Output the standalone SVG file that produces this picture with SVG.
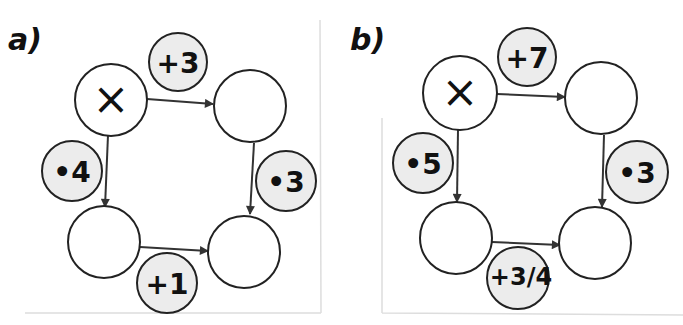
<svg xmlns="http://www.w3.org/2000/svg" width="683" height="325" viewBox="0 0 683 325">
<style>
.node{fill:#fff;stroke:#222;stroke-width:2}
.op{fill:#ececec;stroke:#222;stroke-width:2}
.edge{stroke:#333;stroke-width:2;fill:none;marker-end:url(#ah)}
.t{font-family:"DejaVu Sans",sans-serif;font-weight:bold;fill:#111;text-anchor:middle;dominant-baseline:central}
.x{font-family:"DejaVu Sans",sans-serif;fill:#111;text-anchor:middle;dominant-baseline:central;font-size:44px}
.lab{font-family:"DejaVu Sans",sans-serif;font-style:italic;font-weight:bold;fill:#111;font-size:30px}
.frame{stroke:#ddd;stroke-width:1.5;fill:none}
</style>
<defs>
<marker id="ah" viewBox="0 0 10 10" refX="9" refY="5" markerWidth="11" markerHeight="9" orient="auto" markerUnits="userSpaceOnUse">
<path d="M0,0 L10,5 L0,10 z" fill="#333"/>
</marker>
</defs>
<rect width="683" height="325" fill="#fff"/>
<g id="frames">
<path class="frame" d="M320,20 L321,313 M25,313 L321,313"/>
<path class="frame" d="M382,118 L382,313 M382,313 L684,315"/>
</g>
<text class="lab" x="8" y="50">a)</text>
<text class="lab" x="350" y="50">b)</text>
<g id="connectors">
<line class="edge" x1="147" y1="99" x2="213" y2="104"/>
<line class="edge" x1="108" y1="135" x2="105" y2="207"/>
<line class="edge" x1="254" y1="143" x2="250" y2="214"/>
<line class="edge" x1="140" y1="247" x2="208" y2="251"/>
<line class="edge" x1="497" y1="94" x2="565" y2="97"/>
<line class="edge" x1="458" y1="130" x2="457" y2="202"/>
<line class="edge" x1="604" y1="135" x2="602" y2="207"/>
<line class="edge" x1="492" y1="242" x2="560" y2="245"/>
</g>
<g id="a-x"><circle class="node" cx="111" cy="100" r="36"/><text class="x" x="111" y="98">×</text></g>
<g id="a-tr"><circle class="node" cx="250" cy="106" r="36"/></g>
<g id="a-bl"><circle class="node" cx="104" cy="242" r="36"/></g>
<g id="a-br"><circle class="node" cx="244" cy="252" r="36"/></g>
<g id="a-op1"><circle class="op" cx="178" cy="62" r="29"/><text class="t" x="178" y="63" font-size="28">+3</text></g>
<g id="a-op2"><circle class="op" cx="72" cy="171" r="30"/><text class="t" x="72" y="172" font-size="28">•4</text></g>
<g id="a-op3"><circle class="op" cx="286" cy="181" r="30"/><text class="t" x="286" y="182" font-size="28">•3</text></g>
<g id="a-op4"><circle class="op" cx="167" cy="283" r="30"/><text class="t" x="167" y="284" font-size="28">+1</text></g>
<g id="b-x"><circle class="node" cx="460" cy="93" r="37"/><text class="x" x="460" y="91">×</text></g>
<g id="b-tr"><circle class="node" cx="601" cy="98" r="36"/></g>
<g id="b-bl"><circle class="node" cx="456" cy="238" r="36"/></g>
<g id="b-br"><circle class="node" cx="595" cy="243" r="36"/></g>
<g id="b-op1"><circle class="op" cx="527" cy="57" r="29"/><text class="t" x="527" y="58" font-size="28">+7</text></g>
<g id="b-op2"><circle class="op" cx="423" cy="163" r="30"/><text class="t" x="423" y="164" font-size="28">•5</text></g>
<g id="b-op3"><circle class="op" cx="637" cy="172" r="31"/><text class="t" x="637" y="173" font-size="28">•3</text></g>
<g id="b-op4"><circle class="op" cx="518" cy="278" r="31"/><text class="t" x="521" y="277" font-size="24">+3/4</text></g>
</svg>
